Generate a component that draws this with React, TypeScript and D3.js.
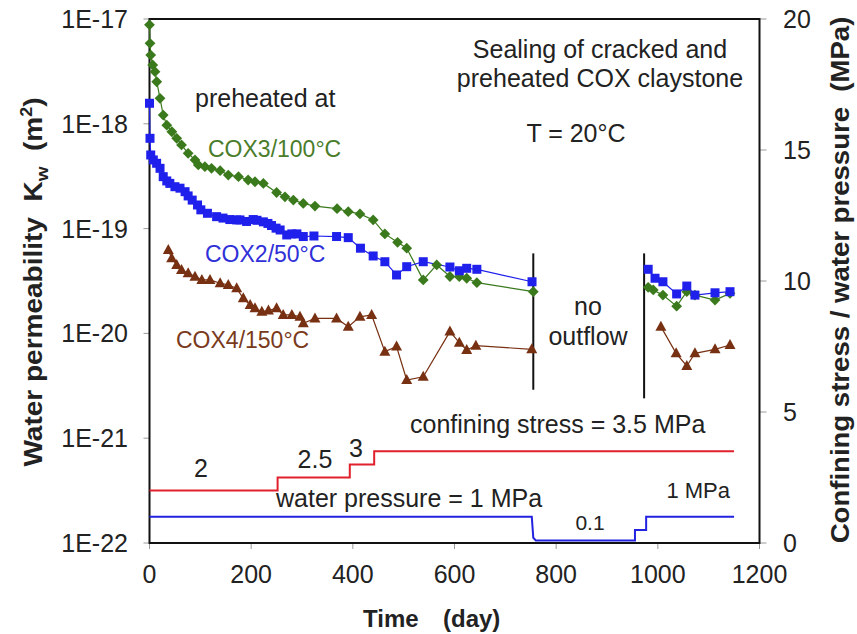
import React from 'react';
import * as d3 from 'd3';

// Time axis (days) and the two vertical scales
const xTicks = [0, 200, 400, 600, 800, 1000, 1200];
const kTicks = [1e-22, 1e-21, 1e-20, 1e-19, 1e-18, 1e-17];
const kTickLabels = ['1E-22', '1E-21', '1E-20', '1E-19', '1E-18', '1E-17'];
const pTicks = [0, 5, 10, 15, 20];

// COX3 preheated at 100 °C
const cox3Days = [0, 1, 2.4, 6.3, 10.8, 14.2, 20.7, 27, 34, 44, 53.5, 63, 76, 89.5, 96, 109, 122, 139, 155, 175, 194, 207.5, 224, 250, 266.5, 283, 302.5, 325.5, 369, 391, 414, 440, 463, 488, 506, 538.5, 565, 591, 609.5, 624, 644, 755, 981, 991, 1010, 1037, 1057, 1073, 1112.5, 1142];
const cox3K = [8.8e-18, 5.86e-18, 4.53e-18, 3.64e-18, 3.14e-18, 2.52e-18, 1.75e-18, 1.21e-18, 9.7e-19, 8.4e-19, 7.27e-19, 6.28e-19, 5.23e-19, 4.52e-19, 4.05e-19, 3.9e-19, 3.76e-19, 3.57e-19, 3.24e-19, 3.13e-19, 2.91e-19, 2.8e-19, 2.7e-19, 2.21e-19, 2.01e-19, 1.87e-19, 1.74e-19, 1.64e-19, 1.55e-19, 1.45e-19, 1.38e-19, 1.21e-19, 8.9e-20, 7.4e-20, 6.5e-20, 3.24e-20, 4.5e-20, 3.49e-20, 3.48e-20, 3.36e-20, 3.05e-20, 2.5e-20, 2.75e-20, 2.6e-20, 2.32e-20, 1.82e-20, 2.5e-20, 2.32e-20, 2.08e-20, 2.41e-20];

// COX2 preheated at 50 °C
const cox2Days = [0, 1, 2.4, 7.5, 14, 20.7, 27, 34, 40, 50, 60, 70, 76, 84, 94.5, 101, 114, 132, 144.6, 158, 171.5, 178, 191, 204, 211.5, 224, 233, 240, 249, 257, 270, 280, 290, 302.5, 323.5, 368, 391, 415, 440, 463, 486, 506, 538.5, 591, 609.5, 624, 644, 752.5, 981, 994.5, 1010, 1037, 1057, 1073, 1112.5, 1142];
const cox2K = [1.57e-18, 7.27e-19, 5.04e-19, 4.52e-19, 4.2e-19, 3.76e-19, 3.13e-19, 2.85e-19, 2.7e-19, 2.51e-19, 2.43e-19, 2.25e-19, 2.05e-19, 1.87e-19, 1.68e-19, 1.51e-19, 1.4e-19, 1.3e-19, 1.26e-19, 1.22e-19, 1.21e-19, 1.21e-19, 1.17e-19, 1.22e-19, 1.2e-19, 1.16e-19, 1.12e-19, 1.07e-19, 1.01e-19, 9.7e-20, 8.7e-20, 8.9e-20, 8.9e-20, 8.4e-20, 8.5e-20, 8.4e-20, 8.2e-20, 6.5e-20, 5.48e-20, 4.83e-20, 3.61e-20, 4.33e-20, 4.83e-20, 4.3e-20, 3.96e-20, 4.18e-20, 4.09e-20, 3.11e-20, 4.09e-20, 3.36e-20, 3.11e-20, 2.38e-20, 2.83e-20, 2.32e-20, 2.44e-20, 2.5e-20];

// COX4 preheated at 150 °C
const cox4Days = [37, 43.7, 53.5, 63, 76, 89.5, 103, 119, 139, 155, 171.5, 184.5, 198, 207.5, 221, 234, 250, 263, 280, 296, 302.5, 325.5, 368, 391, 414, 437, 463, 486, 506, 538.5, 591, 609.5, 624, 642, 752, 1006, 1036, 1057, 1073, 1112.5, 1142];
const cox4K = [6.25e-20, 5.21e-20, 4.5e-20, 4.03e-20, 3.74e-20, 3.48e-20, 3.24e-20, 3.24e-20, 3.01e-20, 2.9e-20, 2.69e-20, 2.16e-20, 1.87e-20, 1.74e-20, 1.61e-20, 1.65e-20, 1.74e-20, 1.5e-20, 1.5e-20, 1.44e-20, 1.25e-20, 1.39e-20, 1.39e-20, 1.16e-20, 1.44e-20, 1.5e-20, 6.7e-21, 7.5e-21, 3.59e-21, 3.86e-21, 1.04e-20, 8.15e-21, 6.95e-21, 7.64e-21, 7.05e-21, 1.16e-20, 6.46e-21, 4.89e-21, 6.46e-21, 7.05e-21, 7.75e-21];

// Loading history (MPa)
const stressDays = [0, 252, 252, 394, 394, 442, 442, 1150];
const stressMPa = [2, 2, 2.5, 2.5, 3, 3, 3.5, 3.5];
const waterDays = [0, 752, 755, 760, 955, 955, 977, 977, 1150];
const waterMPa = [1, 1, 0.2, 0.1, 0.1, 0.5, 0.5, 1, 1];

// Period without outflow, bounded by two markers
const noFlowDays = [755, 973];
const noFlowTopK = [5.8e-20, 5.8e-20];
const noFlowBottomK = [2.9e-21, 2.4e-21];

const FONT = '"Liberation Sans", Arial, Helvetica, sans-serif';
const GREEN = '#3a7a1c';
const BLUE = '#2020ec';
const BROWN = '#783012';

const x = d3.scaleLinear().domain([0, 1200]).range([149.5, 759.5]);
const yK = d3.scaleLog().domain([1e-22, 1e-17]).range([543, 19]);
const yP = d3.scaleLinear().domain([0, 20]).range([543, 19]);

type Pt = [number, number];

// split a series into the parts before and after the no-outflow period
function segments(days: number[], vals: number[]): Pt[][] {
  const before: Pt[] = [];
  const after: Pt[] = [];
  days.forEach((d, i) => {
    (d <= noFlowDays[0] + 1 ? before : after).push([d, vals[i]]);
  });
  return [before, after].filter((s) => s.length > 0);
}

const kLine = d3.line<Pt>().x((d) => x(d[0])).y((d) => yK(d[1]));
const pLine = d3.line<Pt>().x((d) => x(d[0])).y((d) => yP(d[1]));

const diamond = (r: number) => `M0,${-r}L${r},0L0,${r}L${-r},0Z`;
const triangle = (w: number, h: number) => `M0,${-h * 0.6}L${w / 2},${h * 0.4}L${-w / 2},${h * 0.4}Z`;

export default function App() {
  const s3 = segments(cox3Days, cox3K);
  const s2 = segments(cox2Days, cox2K);
  const s4 = segments(cox4Days, cox4K);
  const stress: Pt[] = stressDays.map((d, i) => [d, stressMPa[i]]);
  const water: Pt[] = waterDays.map((d, i) => [d, waterMPa[i]]);
  const [x0, x1] = x.range();
  const [yb, yt] = yK.range();

  return (
    <svg
      width={857}
      height={634}
      style={{ position: 'absolute', left: 0, top: 0, background: '#fff' }}
      fontFamily={FONT}
    >
      <rect width={857} height={634} fill="#fff" />

      {/* ticks */}
      <g stroke="#9a9a9a" strokeWidth={1}>
        {kTicks.map((t) => (
          <line key={'kt' + t} x1={x0 - 6} x2={x0} y1={yK(t)} y2={yK(t)} />
        ))}
        {pTicks.map((t) => (
          <line key={'pt' + t} x1={x1} x2={x1 + 7} y1={yP(t)} y2={yP(t)} />
        ))}
        {xTicks.map((t) => (
          <line key={'xt' + t} x1={x(t)} x2={x(t)} y1={yb} y2={yb + 6} />
        ))}
      </g>

      {/* tick labels */}
      <g fontSize={25} fill="#222">
        {kTicks.map((t, i) => (
          <text key={'kl' + t} x={128} y={yK(t) + 9} textAnchor="end">
            {kTickLabels[i]}
          </text>
        ))}
        {pTicks.map((t) => (
          <text key={'pl' + t} x={783} y={yP(t) + 9}>
            {t}
          </text>
        ))}
        {xTicks.map((t) => (
          <text key={'xl' + t} x={x(t)} y={583} textAnchor="middle">
            {t}
          </text>
        ))}
      </g>

      {/* axis titles */}
      <g fontSize={24} fontWeight="bold" fill="#222">
        <text x={363} y={627}>Time</text>
        <text x={443} y={627}>(day)</text>
        <text
          transform="translate(42,282) rotate(-90) scale(1.12,1)"
          textAnchor="middle"
          fontSize={25}
        >
          Water permeability{'\u00a0\u00a0'}K
          <tspan fontSize={17} dy={6}>w</tspan>
          <tspan dy={-6}>{'\u00a0\u00a0'}(m</tspan>
          <tspan fontSize={16} dy={-10}>2</tspan>
          <tspan dy={10}>)</tspan>
        </text>
        <text
          transform="translate(849,280) rotate(-90) scale(1.06,1)"
          textAnchor="middle"
          fontSize={26}
        >
          Confining stress / water pressure{'\u00a0\u00a0'}(MPa)
        </text>
      </g>

      {/* plot frame */}
      <rect x={x0} y={yt} width={x1 - x0} height={yb - yt} fill="none" stroke="#111" strokeWidth={2} />

      {/* loading history */}
      <path d={pLine(stress) || ''} fill="none" stroke="#e0202c" strokeWidth={2} />
      <path d={pLine(water) || ''} fill="none" stroke="#2222e0" strokeWidth={2} />

      {/* no outflow markers */}
      {noFlowDays.map((d, i) => (
        <line
          key={'nf' + d}
          x1={x(d)}
          x2={x(d)}
          y1={yK(noFlowTopK[i])}
          y2={yK(noFlowBottomK[i])}
          stroke="#111"
          strokeWidth={2}
        />
      ))}

      {/* permeability series: lines */}
      {s3.map((s, i) => (
        <path key={'l3' + i} d={kLine(s) || ''} fill="none" stroke={GREEN} strokeWidth={1.2} />
      ))}
      {s2.map((s, i) => (
        <path key={'l2' + i} d={kLine(s) || ''} fill="none" stroke={BLUE} strokeWidth={1.2} />
      ))}
      {s4.map((s, i) => (
        <path key={'l4' + i} d={kLine(s) || ''} fill="none" stroke={BROWN} strokeWidth={1.2} />
      ))}

      {/* permeability series: markers */}
      {cox4Days.map((d, i) => (
        <path
          key={'m4' + i}
          transform={`translate(${x(d)},${yK(cox4K[i])})`}
          d={triangle(11, 10)}
          fill={BROWN}
        />
      ))}
      {cox3Days.map((d, i) => (
        <path
          key={'m3' + i}
          transform={`translate(${x(d)},${yK(cox3K[i])})`}
          d={diamond(5.4)}
          fill={GREEN}
        />
      ))}
      {cox2Days.map((d, i) => (
        <rect
          key={'m2' + i}
          x={x(d) - 4.5}
          y={yK(cox2K[i]) - 4.5}
          width={9}
          height={9}
          fill={BLUE}
        />
      ))}

      {/* annotations */}
      <g fontSize={25} fill="#222">
        <text x={600} y={58} textAnchor="middle">Sealing of cracked and</text>
        <text x={600} y={87} textAnchor="middle">preheated COX claystone</text>
        <text x={576} y={142} textAnchor="middle">T = 20°C</text>
        <text x={195} y={107}>preheated at</text>
        <text x={588} y={315} textAnchor="middle">no</text>
        <text x={588} y={345} textAnchor="middle">outflow</text>
        <text x={410} y={433}>confining stress = 3.5 MPa</text>
        <text x={201} y={477} textAnchor="middle">2</text>
        <text x={315} y={468} textAnchor="middle">2.5</text>
        <text x={356} y={457} textAnchor="middle">3</text>
        <text x={276} y={507}>water pressure = 1 MPa</text>
        <text x={590} y={530} textAnchor="middle" fontSize={21}>0.1</text>
        <text x={730} y={498} textAnchor="end" fontSize={22}>1 MPa</text>
      </g>
      <g fontSize={23}>
        <text x={208} y={157} fill="#4a7d2a">COX3/100°C</text>
        <text x={205} y={262} fill="#3030d8">COX2/50°C</text>
        <text x={176} y={348} fill="#7a3a1c">COX4/150°C</text>
      </g>
    </svg>
  );
}
